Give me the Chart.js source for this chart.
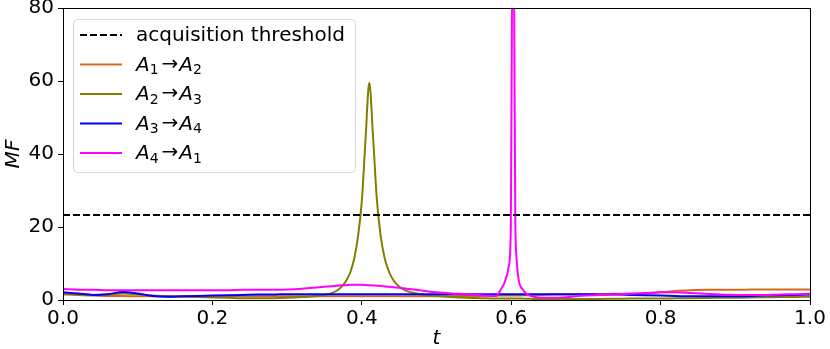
<!DOCTYPE html>
<html>
<head>
<meta charset="utf-8">
<script src="https://cdn.jsdelivr.net/npm/chart.js@4"></script>
<style>
  body { margin: 0; background: #fff; }
</style>
</head>
<body>
<canvas id="mfChart" width="830" height="349"></canvas>
<script>
// sample times (denser around the two peaks)
const tValues = [0, 0.02, 0.04, 0.06, 0.08, 0.10, 0.12, 0.14, 0.16, 0.18, 0.20, 0.22, 0.24, 0.26, 0.28, 0.30, 0.32, 0.34,
  0.35, 0.36, 0.365, 0.37, 0.375, 0.38, 0.385, 0.39, 0.395, 0.40, 0.405, 0.41, 0.415, 0.42, 0.425, 0.43, 0.435, 0.44, 0.445, 0.45, 0.455, 0.46, 0.47,
  0.48, 0.50, 0.52, 0.54, 0.56, 0.58, 0.585,
  0.5915, 0.597, 0.5995, 0.6015, 0.6025, 0.6035, 0.6055, 0.607, 0.61, 0.615, 0.62, 0.625, 0.63, 0.64,
  0.66, 0.68, 0.70, 0.72, 0.74, 0.76, 0.78, 0.80, 0.82, 0.84, 0.86, 0.88, 0.90, 0.92, 0.94, 0.96, 0.98, 1.00];

const mfA1A2 = [1.6, 1.4, 1.2, 1.1, 1.1, 1.0, 1.0, 1.0, 1.0, 1.0, 1.0, 1.0, 1.0, 1.0, 1.0, 1.0, 1.0, 1.0,
  1.0, 1.0, 1.0, 1.0, 1.0, 1.0, 1.0, 1.0, 1.0, 1.0, 1.0, 1.0, 1.0, 1.0, 1.0, 1.0, 1.0, 1.0, 1.0, 1.0, 1.0, 1.0, 1.0,
  1.0, 1.0, 1.0, 1.1, 1.1, 1.2, 1.2,
  1.2, 1.2, 1.2, 1.2, 1.2, 1.2, 1.2, 1.2, 1.2, 1.3, 1.3, 1.3, 1.3, 1.4,
  1.5, 1.5, 1.6, 1.6, 1.7, 1.7, 1.8, 2.1, 2.5, 2.7, 2.8, 2.8, 2.8, 2.85, 2.9, 2.9, 2.9, 2.9];

const mfA2A3 = [1.6, 1.5, 1.4, 1.5, 1.8, 1.6, 1.2, 1.0, 0.9, 0.8, 0.7, 0.6, 0.5, 0.5, 0.5, 0.6, 0.8, 1.1,
  1.4, 1.9, 2.4, 3.1, 4.1, 5.6, 7.8, 11.5, 17.5, 27, 44, 59.5, 45, 28, 18, 12, 8.5, 6.2, 4.7, 3.7, 3.0, 2.5, 1.9,
  1.5, 1.1, 0.8, 0.6, 0.5, 0.4, 0.4,
  0.4, 0.4, 0.4, 0.4, 0.4, 0.4, 0.4, 0.4, 0.4, 0.4, 0.35, 0.35, 0.3, 0.3,
  0.3, 0.3, 0.3, 0.3, 0.35, 0.4, 0.4, 0.4, 0.45, 0.5, 0.55, 0.6, 0.65, 0.7, 0.75, 0.8, 0.85, 0.9];

const mfA3A4 = [2.1, 1.8, 1.4, 1.6, 2.2, 1.8, 1.1, 0.9, 1.0, 1.1, 1.2, 1.3, 1.4, 1.5, 1.5, 1.6, 1.6, 1.6,
  1.6, 1.6, 1.6, 1.6, 1.6, 1.6, 1.6, 1.6, 1.6, 1.6, 1.6, 1.6, 1.6, 1.6, 1.6, 1.6, 1.6, 1.6, 1.6, 1.6, 1.6, 1.6, 1.6,
  1.6, 1.6, 1.6, 1.6, 1.6, 1.6, 1.6,
  1.6, 1.6, 1.6, 1.6, 1.6, 1.6, 1.6, 1.6, 1.6, 1.6, 1.6, 1.6, 1.6, 1.6,
  1.6, 1.6, 1.6, 1.5, 1.5, 1.4, 1.3, 1.2, 1.1, 1.0, 1.0, 1.0, 1.0, 1.1, 1.2, 1.3, 1.4, 1.5];

const mfA4A1 = [3.0, 2.8, 2.8, 2.7, 2.7, 2.7, 2.7, 2.7, 2.7, 2.7, 2.7, 2.7, 2.8, 2.8, 2.8, 2.9, 3.1, 3.4,
  3.6, 3.8, 3.9, 4.0, 4.05, 4.1, 4.15, 4.2, 4.2, 4.15, 4.1, 4.05, 4.0, 3.9, 3.85, 3.75, 3.65, 3.55, 3.45, 3.35, 3.2, 3.1, 2.85,
  2.6, 2.1, 1.8, 1.6, 1.3, 1.1, 2.5,
  5.0, 9.5, 20, 100, 130, 100, 22, 12, 5.5, 3.0, 1.8, 1.2, 0.9, 0.6,
  0.6, 0.9, 1.2, 1.4, 1.5, 1.7, 1.9, 2.1, 2.1, 1.9, 1.7, 1.5, 1.4, 1.4, 1.4, 1.5, 1.6, 1.7];

const threshold = 23.3;
const xTicks = [0, 0.2, 0.4, 0.6, 0.8, 1.0];
const yTicks = [0, 20, 40, 60, 80];

const labels = ["acquisition threshold", "A₁→A₂", "A₂→A₃", "A₃→A₄", "A₄→A₁"];
const colors = ["#000000", "#d2691e", "#808000", "#0000ff", "#ff00ff"];

const toPoints = ys => ys.map((y, i) => ({ x: tValues[i], y: y }));

const FONT = "'DejaVu Sans', sans-serif";

// legend drawn inside the plot, upper left, matplotlib style
const innerLegend = {
  id: "innerLegend",
  afterDraw(chart) {
    const ctx = chart.ctx;
    const area = chart.chartArea;
    ctx.save();
    // frame (top and right spines)
    ctx.strokeStyle = "#000";
    ctx.lineWidth = 1;
    ctx.strokeRect(area.left + 0.5, area.top + 0.5, area.right - area.left, area.bottom - area.top);

    // legend box
    const bx = 73.5, by = 19.5, bw = 282, bh = 153, r = 4;
    ctx.beginPath();
    ctx.moveTo(bx + r, by);
    ctx.arcTo(bx + bw, by, bx + bw, by + bh, r);
    ctx.arcTo(bx + bw, by + bh, bx, by + bh, r);
    ctx.arcTo(bx, by + bh, bx, by, r);
    ctx.arcTo(bx, by, bx + bw, by, r);
    ctx.closePath();
    ctx.fillStyle = "rgba(255,255,255,0.8)";
    ctx.fill();
    ctx.strokeStyle = "#d6d6d6";
    ctx.stroke();

    chart.data.datasets.forEach((ds, i) => {
      const y = 35 + i * 29.5;
      ctx.beginPath();
      ctx.setLineDash(ds.borderDash || []);
      ctx.strokeStyle = ds.borderColor;
      ctx.lineWidth = 2;
      ctx.moveTo(80, y);
      ctx.lineTo(122, y);
      ctx.stroke();
      ctx.setLineDash([]);

      ctx.fillStyle = "#000";
      ctx.textBaseline = "middle";
      ctx.textAlign = "left";
      let x = 136;
      const subs = "₀₁₂₃₄₅₆₇₈₉";
      if (i === 0) {
        ctx.font = "20px " + FONT;
        ctx.fillText(ds.label, x, y + 1);
      } else {
        for (const ch of ds.label) {
          const k = subs.indexOf(ch);
          if (k >= 0) {
            ctx.font = "14px " + FONT;
            ctx.fillText(String(k), x, y + 6);
            x += ctx.measureText(String(k)).width + 3;
          } else if (ch === "→") {
            ctx.font = "20px " + FONT;
            ctx.fillText(ch, x, y);
            x += ctx.measureText(ch).width + 1;
          } else {
            ctx.font = "italic 20px " + FONT;
            ctx.fillText(ch, x, y + 1);
            x += ctx.measureText(ch).width;
          }
        }
      }
    });
    ctx.restore();
  }
};

function renderChart() {
  const ctx = document.getElementById("mfChart").getContext("2d");

  const seriesData = [mfA1A2, mfA2A3, mfA3A4, mfA4A1];
  const datasets = [{
    label: labels[0],
    data: [{ x: 0, y: threshold }, { x: 1, y: threshold }],
    borderColor: colors[0],
    borderDash: [7, 3],
    borderWidth: 2,
    pointRadius: 0,
    order: 0
  }];
  seriesData.forEach((ys, i) => {
    datasets.push({
      label: labels[i + 1],
      data: toPoints(ys),
      borderColor: colors[i + 1],
      borderWidth: 2,
      pointRadius: 0,
      cubicInterpolationMode: "monotone",
      order: 5 - i
    });
  });

  new Chart(ctx, {
    type: "line",
    data: { datasets: datasets },
    plugins: [innerLegend],
    options: {
      responsive: false,
      animation: false,
      devicePixelRatio: 1,
      layout: { padding: { top: 8, right: 20, left: 0, bottom: 0 } },
      plugins: { legend: { display: false }, tooltip: { enabled: false } },
      scales: {
        x: {
          type: "linear",
          min: 0,
          max: 1,
          afterBuildTicks: s => { s.ticks = xTicks.map(v => ({ value: v })); },
          afterFit: s => { s.height = 49; s.paddingLeft = 0; s.paddingRight = 0; },
          ticks: {
            color: "#000",
            font: { family: FONT, size: 20 },
            padding: 2,
            maxRotation: 0,
            callback: v => v.toFixed(1)
          },
          grid: { drawOnChartArea: false, drawTicks: true, tickLength: 5, tickColor: "#000" },
          border: { display: true, color: "#000", width: 1 },
          title: {
            display: true,
            text: "t",
            color: "#000",
            font: { family: FONT, size: 20, style: "italic", lineHeight: 1 },
            padding: { top: 0, bottom: 0 }
          }
        },
        y: {
          min: 0,
          max: 80,
          afterBuildTicks: s => { s.ticks = yTicks.map(v => ({ value: v })); },
          afterFit: s => { s.width = 63; s.paddingTop = 0; s.paddingBottom = 0; },
          ticks: {
            color: "#000",
            font: { family: FONT, size: 20 },
            padding: 4
          },
          grid: { drawOnChartArea: false, drawTicks: true, tickLength: 5, tickColor: "#000" },
          border: { display: true, color: "#000", width: 1 },
          title: {
            display: true,
            text: "MF",
            color: "#000",
            font: { family: FONT, size: 20, style: "italic", lineHeight: 1 },
            padding: { top: 4, bottom: 0 }
          }
        }
      }
    }
  });
}

renderChart();
</script>
</body>
</html>
